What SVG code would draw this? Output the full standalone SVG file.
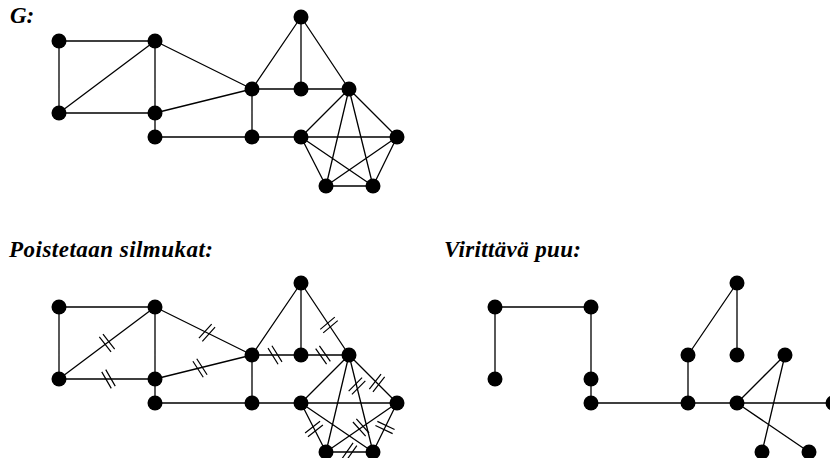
<svg xmlns="http://www.w3.org/2000/svg" xmlns:xlink="http://www.w3.org/1999/xlink" width="830" height="458" viewBox="0 0 830 458">
<style>
.e{stroke:#000;stroke-width:1.3;fill:none}
.n{fill:#000}
.t{font-family:"Liberation Serif","Times New Roman",serif;font-weight:bold;font-style:italic;font-size:23px;fill:#000}
.tk{stroke:#000;stroke-width:1.2;fill:none}
</style>
<defs>
<path id="tk" class="tk" d="M-9.5,-2.3H9.5M-9.5,2.3H9.5"/>
<circle id="nd" class="n" r="7.5"/>
</defs>
<rect width="830" height="458" fill="#fff"/>
<text class="t" x="10" y="23">G:</text>
<text class="t" x="9" y="257" textLength="204" lengthAdjust="spacing">Poistetaan silmukat:</text>
<text class="t" x="444" y="257" textLength="137" lengthAdjust="spacing">Virittävä puu:</text>

<g id="graph-G">
<g id="G-edges" class="e">
<path d="M59,41H155M59,41V113M59,113L155,41M59,113H155M155,41V137M155,41L252,89M155,113L252,89M252,89H349M252,89L301,17M301,17V89M301,17L349,89M252,89V137M155,137H397M349,89L301,137M349,89L397,137M349,89L326,186M349,89L373,186M301,137L326,186M301,137L373,186M397,137L326,186M397,137L373,186M326,186H373"/>
</g>
<g id="G-A"><use href="#nd" x="59" y="41"/></g>
<g id="G-B"><use href="#nd" x="155" y="41"/></g>
<g id="G-C"><use href="#nd" x="59" y="113"/></g>
<g id="G-D"><use href="#nd" x="155" y="113"/></g>
<g id="G-E"><use href="#nd" x="155" y="137"/></g>
<g id="G-F"><use href="#nd" x="252" y="89"/></g>
<g id="G-G"><use href="#nd" x="301" y="17"/></g>
<g id="G-H"><use href="#nd" x="301" y="89"/></g>
<g id="G-I"><use href="#nd" x="349" y="89"/></g>
<g id="G-J"><use href="#nd" x="252" y="137"/></g>
<g id="G-K"><use href="#nd" x="301" y="137"/></g>
<g id="G-L"><use href="#nd" x="397" y="137"/></g>
<g id="G-M"><use href="#nd" x="326" y="186"/></g>
<g id="G-N"><use href="#nd" x="373" y="186"/></g>
</g>

<g id="graph-cut" transform="translate(0,266)">
<g id="cut-edges" class="e">
<path d="M59,41H155M59,41V113M59,113L155,41M59,113H155M155,41V137M155,41L252,89M155,113L252,89M252,89H349M252,89L301,17M301,17V89M301,17L349,89M252,89V137M155,137H397M349,89L301,137M349,89L397,137M349,89L326,186M349,89L373,186M301,137L326,186M301,137L373,186M397,137L326,186M397,137L373,186M326,186H373"/>
</g>
<g id="cut-marks">
<use href="#tk" transform="translate(107,77) rotate(52)"/>
<use href="#tk" transform="translate(108.5,113) rotate(60)"/>
<use href="#tk" transform="translate(207,66.7) rotate(-48)"/>
<use href="#tk" transform="translate(200,102) rotate(57)"/>
<use href="#tk" transform="translate(275,89) rotate(58)"/>
<use href="#tk" transform="translate(323,89) rotate(55)"/>
<use href="#tk" transform="translate(329,59) rotate(-40)"/>
<use href="#tk" transform="translate(377,117) rotate(-52)"/>
<use href="#tk" transform="translate(357,120) rotate(-45)"/>
<use href="#tk" transform="translate(314,163) rotate(-38)"/>
<use href="#tk" transform="translate(361,161.5) rotate(48)"/>
<use href="#tk" transform="translate(385,161.5) rotate(25)"/>
<use href="#tk" transform="translate(349.5,186) rotate(-55)"/>
</g>
<g id="cut-A"><use href="#nd" x="59" y="41"/></g>
<g id="cut-B"><use href="#nd" x="155" y="41"/></g>
<g id="cut-C"><use href="#nd" x="59" y="113"/></g>
<g id="cut-D"><use href="#nd" x="155" y="113"/></g>
<g id="cut-E"><use href="#nd" x="155" y="137"/></g>
<g id="cut-F"><use href="#nd" x="252" y="89"/></g>
<g id="cut-G"><use href="#nd" x="301" y="17"/></g>
<g id="cut-H"><use href="#nd" x="301" y="89"/></g>
<g id="cut-I"><use href="#nd" x="349" y="89"/></g>
<g id="cut-J"><use href="#nd" x="252" y="137"/></g>
<g id="cut-K"><use href="#nd" x="301" y="137"/></g>
<g id="cut-L"><use href="#nd" x="397" y="137"/></g>
<g id="cut-M"><use href="#nd" x="326" y="186"/></g>
<g id="cut-N"><use href="#nd" x="373" y="186"/></g>
</g>

<g id="graph-tree" transform="translate(436,266)">
<g id="tree-edges" class="e">
<path d="M59,41H155M59,41V113M155,41V137M155,137H397M252,89V137M252,89L301,17M301,17V89M301,137L349,89M349,89L326,186M301,137L373,186"/>
</g>
<g id="tree-A"><use href="#nd" x="59" y="41"/></g>
<g id="tree-B"><use href="#nd" x="155" y="41"/></g>
<g id="tree-C"><use href="#nd" x="59" y="113"/></g>
<g id="tree-D"><use href="#nd" x="155" y="113"/></g>
<g id="tree-E"><use href="#nd" x="155" y="137"/></g>
<g id="tree-F"><use href="#nd" x="252" y="89"/></g>
<g id="tree-G"><use href="#nd" x="301" y="17"/></g>
<g id="tree-H"><use href="#nd" x="301" y="89"/></g>
<g id="tree-I"><use href="#nd" x="349" y="89"/></g>
<g id="tree-J"><use href="#nd" x="252" y="137"/></g>
<g id="tree-K"><use href="#nd" x="301" y="137"/></g>
<g id="tree-L"><use href="#nd" x="397" y="137"/></g>
<g id="tree-M"><use href="#nd" x="326" y="186"/></g>
<g id="tree-N"><use href="#nd" x="373" y="186"/></g>
</g>
</svg>
